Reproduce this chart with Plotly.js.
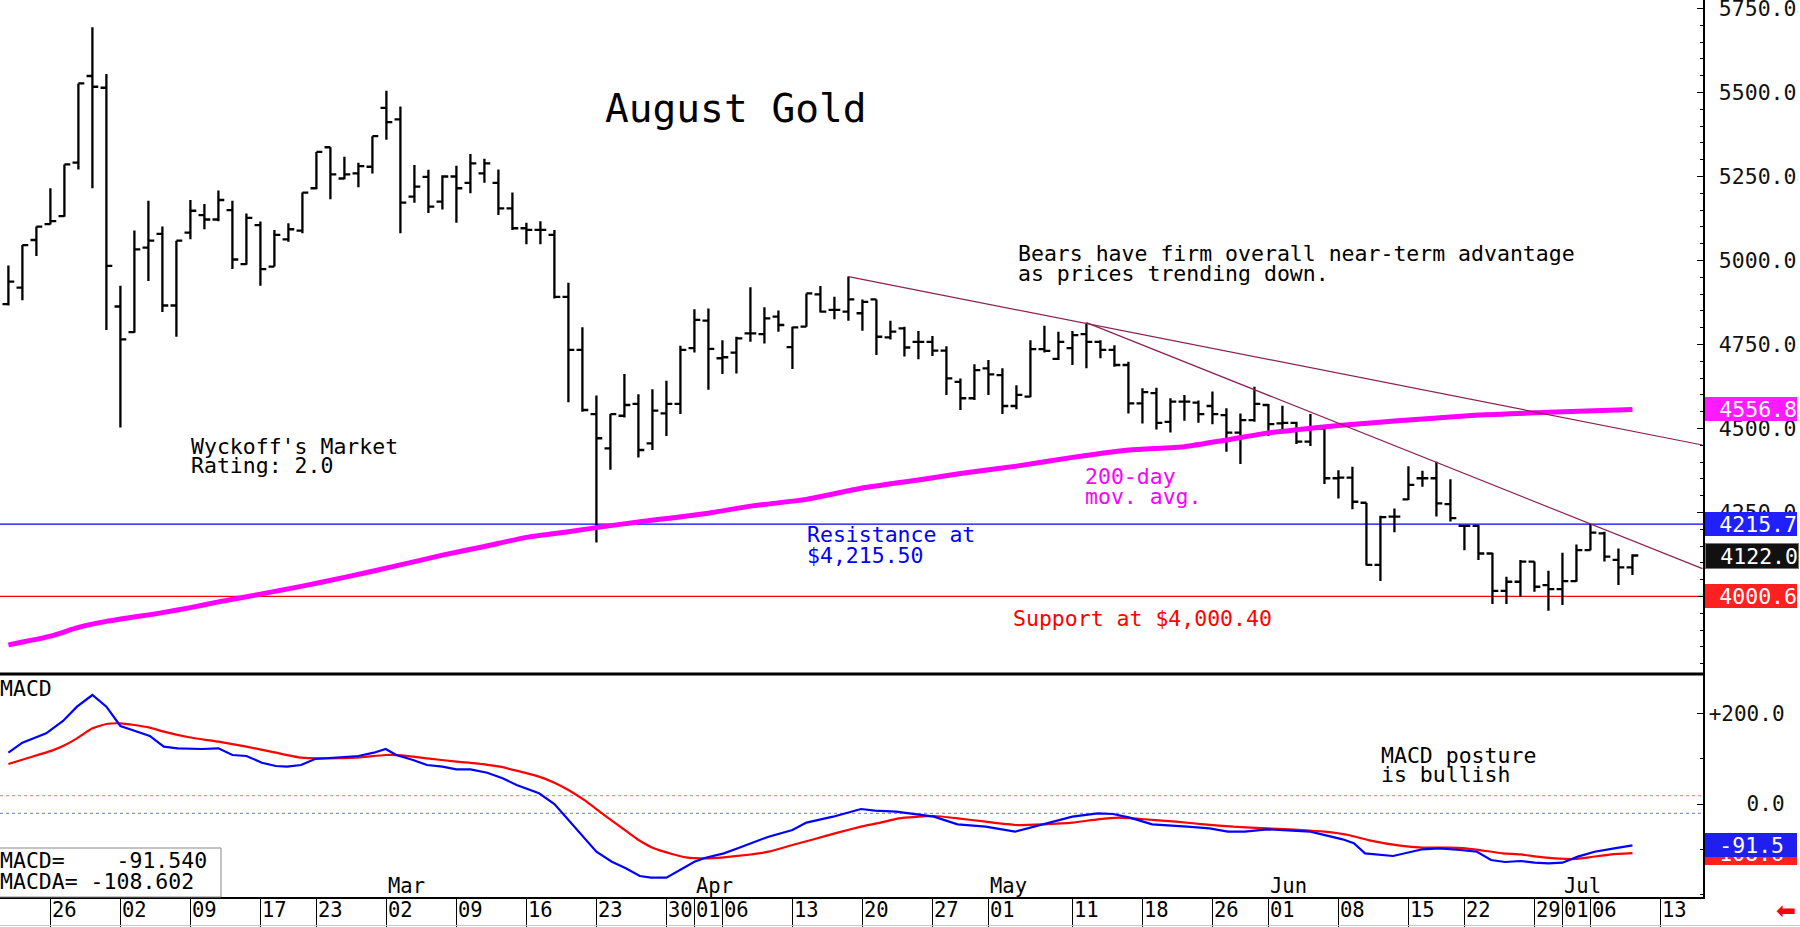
<!DOCTYPE html>
<html>
<head>
<meta charset="utf-8">
<script src="https://cdn.plot.ly/plotly-3.0.1.min.js"></script>
<style>
  html, body { margin: 0; padding: 0; background: #fff; }
  #chart { width: 1800px; height: 927px; }
</style>
</head>
<body>
<div id="chart"></div>
<script>
// ---- August Gold daily bars (one entry per trading day, Jan 21 .. Jul 9) ----
const openP = [
  4870, 4919, 5061, 5108, 5132, 5291, 5549, 5514, 4863, 4787,
  5038, 5079, 4866, 5083, 5135, 5122, 5150, 4989, 5105, 4982,
  5063, 5089, 5215, 5337, 5244, 5259, 5279, 5454, 5420, 5190,
  5249, 5175, 5250, 5231, 5259, 5231, 5155, 5096, 5091, 5076,
  4892, 4734, 4543, 4441, 4538, 4573, 4456, 4545, 4573, 4739,
  4821, 4709, 4726, 4783, 4781, 4833, 4742, 4803, 4899, 4853,
  4848, 4843, 4884, 4771, 4798, 4758, 4758, 4732, 4639, 4590,
  4679, 4659, 4567, 4595, 4736, 4707, 4739, 4781, 4758, 4734,
  4689, 4575, 4605, 4520, 4580, 4577, 4567, 4540, 4488, 4525,
  4570, 4515, 4517, 4461, 4500, 4352, 4354, 4279, 4094, 4238,
  4289, 4352, 4352, 4275, 4210, 4210, 4128, 4017, 4044, 4104,
  4034, 4022, 4046, 4138, 4188, 4109, 4087
];
const highP = [
  4985, 5046, 5101, 5215, 5286, 5527, 5694, 5555, 4925, 5089,
  5178, 5101, 5059, 5180, 5168, 5208, 5178, 5140, 5116, 5091,
  5111, 5202, 5323, 5337, 5309, 5291, 5370, 5505, 5458, 5284,
  5270, 5254, 5282, 5317, 5303, 5271, 5202, 5112, 5117, 5091,
  4934, 4801, 4598, 4543, 4662, 4602, 4617, 4642, 4746, 4855,
  4857, 4763, 4773, 4920, 4861, 4851, 4803, 4902, 4924, 4892,
  4952, 4884, 4884, 4821, 4803, 4790, 4775, 4745, 4649, 4691,
  4704, 4679, 4629, 4763, 4806, 4788, 4790, 4815, 4763, 4748,
  4699, 4620, 4621, 4590, 4600, 4583, 4610, 4560, 4545, 4624,
  4573, 4568, 4520, 4543, 4502, 4376, 4386, 4279, 4240, 4262,
  4388, 4374, 4401, 4349, 4213, 4213, 4130, 4059, 4109, 4104,
  4077, 4130, 4155, 4216, 4193, 4143, 4126
];
const lowP = [
  4866, 4882, 5013, 5107, 5130, 5271, 5215, 4793, 4503, 4785,
  4939, 4847, 4773, 5063, 5093, 5117, 4975, 4987, 4925, 4982,
  5056, 5081, 5212, 5182, 5242, 5218, 5259, 5359, 5081, 5172,
  5141, 5152, 5112, 5200, 5231, 5135, 5091, 5048, 5048, 4887,
  4578, 4550, 4161, 4377, 4533, 4414, 4436, 4478, 4543, 4726,
  4615, 4662, 4664, 4758, 4753, 4788, 4677, 4803, 4845, 4825,
  4821, 4791, 4719, 4765, 4714, 4706, 4716, 4600, 4555, 4585,
  4600, 4543, 4557, 4593, 4726, 4704, 4689, 4679, 4709, 4684,
  4545, 4515, 4497, 4488, 4523, 4517, 4513, 4431, 4394, 4520,
  4478, 4492, 4454, 4448, 4335, 4292, 4260, 4092, 4046, 4191,
  4287, 4327, 4238, 4223, 4138, 4109, 3978, 3978, 3999, 4014,
  3958, 3975, 4044, 4138, 4104, 4034, 4064
];
const closeP = [
  4937, 5046, 5101, 5117, 5286, 5527, 5517, 4984, 4765, 5033,
  5059, 4866, 5059, 5148, 5122, 5180, 5003, 5127, 4974, 5076,
  5093, 5202, 5323, 5256, 5256, 5281, 5370, 5412, 5172, 5220,
  5160, 5250, 5215, 5289, 5289, 5155, 5096, 5091, 5091, 4892,
  4734, 4555, 4471, 4543, 4570, 4436, 4553, 4573, 4734, 4823,
  4737, 4712, 4768, 4783, 4828, 4808, 4801, 4902, 4848, 4853,
  4884, 4877, 4773, 4788, 4741, 4758, 4732, 4649, 4590, 4674,
  4661, 4567, 4600, 4736, 4731, 4758, 4778, 4758, 4734, 4689,
  4575, 4608, 4517, 4580, 4580, 4543, 4543, 4488, 4525, 4573,
  4513, 4517, 4461, 4500, 4352, 4354, 4282, 4094, 4236, 4238,
  4332, 4352, 4277, 4233, 4210, 4128, 4017, 4044, 4104, 4029,
  4022, 4046, 4138, 4190, 4119, 4087, 4122.0
];

// ---- 200-day moving average (trading-day index, value) ----
const maIdx = [0, 3, 5, 7, 11, 13, 15, 18, 21, 24, 28, 31, 34, 37, 40, 42, 45, 50, 53, 57,
               61, 65, 68, 72, 76, 80, 84, 87, 90, 92, 95, 99, 105, 110, 116];
const maVal = [3856, 3882, 3908, 3926, 3952, 3967, 3984, 4007, 4031, 4057, 4094, 4123, 4149, 4176, 4193, 4205, 4222, 4248, 4269, 4289,
               4323, 4347, 4366, 4388, 4414, 4436, 4446, 4466, 4487, 4496, 4509, 4522, 4540, 4548, 4556.8];

// ---- MACD line (trading-day position, value) ----
const macdIdx = [0, 1.0, 2.7, 3.9, 4.9, 6.0, 7.0, 8.0, 9.0, 10.1, 11.1, 12.1, 13.8, 15.0, 16.0, 17.0, 18.1, 19.1, 19.9, 20.9,
                 21.9, 23.6, 25.0, 26.1, 26.95, 27.7, 28.9, 29.9, 31.0, 32.0, 33.0, 34.2, 35.3, 36.3, 37.9, 39.0, 40.0, 41.0, 42.0, 43.1,
                 44.1, 45.1, 45.9, 47.0, 48.0, 49.0, 49.8, 51.1, 52.1, 53.1, 54.3, 56.0, 57.0, 58.9, 60.9, 61.9, 63.4, 64.9, 66.1, 67.8,
                 69.8, 71.9, 73.9, 76.0, 77.8, 78.9, 80.1, 81.7, 84.2, 85.8, 87.1, 88.3, 89.9, 91.6, 93.0, 95.3, 96.1, 96.9, 98.9, 101.0,
                 102.2, 103.7, 104.9, 105.9, 106.9, 108.0, 109.0, 110.0, 111.0, 112.1, 113.3, 114.7, 116];
const macdVal = [113.6, 135.8, 156.5, 183.8, 215.4, 241.3, 215.4, 172.7, 162.3, 150.6, 126.9, 123.3, 121.8, 123.3, 108.5, 106.3, 91.4, 84.1, 82.6, 86.3,
                 99.6, 102.5, 106.3, 113.6, 121.8, 108.5, 97.4, 86.3, 82.6, 76.8, 76.8, 69.3, 56.9, 42.1, 23.7, 0, -35.4, -72.4, -105.6, -127.7,
                 -142.4, -159.4, -163.2, -163.2, -146.1, -127.7, -118.9, -109.2, -98.1, -87.0, -72.4, -57.6, -41.3, -28.1, -11.1, -14.8, -17.0, -22.9, -28.1, -45.0,
                 -50.2, -61.3, -44.3, -28.1, -20.7, -22.1, -30.3, -45.0, -50.2, -53.9, -61.3, -61.3, -56.1, -59.0, -61.3, -78.2, -87.0, -109.2, -115.1, -100.3,
                 -98.1, -101.8, -105.6, -124.0, -128.4, -126.2, -129.9, -131.4, -129.9, -116.6, -105.6, -98.1, -91.54];

// ---- MACDA (average of MACD) ----
const macdaIdx = [0, 1.45, 3.1, 3.9, 4.9, 6.0, 7.0, 8.0, 9.0, 10.1, 11.1, 12.9, 15.0, 17.0, 19.1, 20.9, 22.4, 24.8, 26.95, 28.1,
                  29.9, 32.0, 33.4, 35.1, 36.3, 37.9, 39.0, 40.0, 41.2, 42.4, 43.7, 44.9, 46.1, 47.4, 48.4, 49.8, 51.1, 52.7, 54.3, 56.0,
                  57.6, 59.3, 60.9, 62.3, 63.6, 66.1, 67.8, 69.8, 71.9, 73.9, 76.0, 77.8, 79.3, 80.9, 83.4, 85.4, 87.5, 89.9, 92.4, 94.0,
                  95.7, 97.3, 99.4, 101.0, 103.0, 104.7, 106.7, 108.0, 109.2, 110.8, 111.9, 112.9, 114.5, 116];
const macdaVal = [88.6, 102.5, 118.1, 128.4, 145.4, 167.5, 177.1, 178.6, 174.9, 169.0, 160.1, 147.7, 138.0, 126.9, 113.6, 102.5, 101.1, 102.5, 108.5, 107.8,
                  101.1, 93.7, 90.1, 82.6, 73.8, 60.5, 47.2, 31.0, 7.4, -20.7, -50.2, -77.5, -98.1, -110.7, -118.1, -120.3, -118.1, -112.9, -105.6, -90.8,
                  -77.5, -62.7, -50.2, -41.3, -31.7, -26.6, -31.7, -39.2, -46.5, -45.0, -41.3, -33.9, -30.3, -33.2, -39.2, -45.0, -50.2, -53.9, -57.6, -61.3,
                  -68.6, -81.2, -92.3, -96.7, -96.7, -100.3, -109.2, -111.4, -116.6, -121.1, -121.8, -118.1, -111.4, -108.602];
const macdUpperRef = 18.4;
const macdLowerRef = -20.6;

// ---- levels and trend lines ----
const resistance = 4215.5;
const support = 4000.4;
const trendAIdx = [60, 121];
const trendAVal = [4952, 4451];
const trendBIdx = [77, 121];
const trendBVal = [4815, 4083];

// ---- right-hand value flags ----
const flagMa = 4556.8, flagRes = 4215.7, flagLast = 4122.0, flagSup = 4000.6;

// ---- date axis ----
const tickIdx  = [3, 8, 13, 18, 22, 27, 32, 37, 42, 47, 49, 51, 56, 61, 66, 70, 76, 81, 86, 90, 95, 100, 104, 109, 111, 113, 118];
const tickText = ['26','02','09','17','23','02','09','16','23','30','01','06','13','20','27','01','11','18','26','01','08','15','22','29','01','06','13'];
const monthIdx  = [27, 49, 70, 90, 111];
const monthText = ['Mar', 'Apr', 'May', 'Jun', 'Jul'];

// ---------------------------------------------------------------------------
const FONT = 'DejaVu Sans Mono, monospace';
const PW = 1703, PH = 897;              // plot area in px
const px = x => x / PW;                  // px -> paper x
const py = y => 1 - y / PH;              // px -> paper y
const PRICE_DOMAIN = [1 - 674 / PH, 1];
const MACD_DOMAIN = [0, 1 - 674 / PH];

const barIdx = closeP.map((_, i) => i);

const traces = [
  {
    type: 'ohlc', x: barIdx, open: openP, high: highP, low: lowP, close: closeP,
    xaxis: 'x', yaxis: 'y', tickwidth: 0.42, hoverinfo: 'skip',
    increasing: { line: { color: '#000', width: 2.3 } },
    decreasing: { line: { color: '#000', width: 2.3 } }
  },
  {
    type: 'scatter', mode: 'lines', x: maIdx, y: maVal, xaxis: 'x', yaxis: 'y',
    line: { color: '#ff00ff', width: 5, shape: 'spline', smoothing: 0.6 }, hoverinfo: 'skip'
  },
  {
    type: 'scatter', mode: 'lines', x: trendAIdx, y: trendAVal, xaxis: 'x', yaxis: 'y',
    line: { color: '#8b2252', width: 1.2 }, hoverinfo: 'skip'
  },
  {
    type: 'scatter', mode: 'lines', x: trendBIdx, y: trendBVal, xaxis: 'x', yaxis: 'y',
    line: { color: '#8b2252', width: 1.2 }, hoverinfo: 'skip'
  },
  {
    type: 'scatter', mode: 'lines', x: macdaIdx, y: macdaVal, xaxis: 'x', yaxis: 'y2',
    line: { color: '#ff0000', width: 2.2, shape: 'spline', smoothing: 0.4 }, hoverinfo: 'skip'
  },
  {
    type: 'scatter', mode: 'lines', x: macdIdx, y: macdVal, xaxis: 'x', yaxis: 'y2',
    line: { color: '#0000ff', width: 2.2 }, hoverinfo: 'skip'
  }
];

function note(text, x, y, color, size, extra) {
  return Object.assign({
    text: text, xref: 'paper', yref: 'paper', x: px(x), y: py(y),
    xanchor: 'left', yanchor: 'middle', showarrow: false, borderpad: 0,
    font: { family: FONT, size: size || 21.5, color: color || '#000' }
  }, extra || {});
}

function flag(text, value, yref, bg, border) {
  return {
    text: text, xref: 'paper', yref: yref, x: px(1705), y: value,
    xanchor: 'left', yanchor: 'middle', showarrow: false,
    width: 92, height: 24, align: 'right', borderpad: 0,
    bgcolor: bg, bordercolor: border || bg, borderwidth: border ? 1 : 0,
    font: { family: FONT, size: 21.5, color: '#fff' }
  };
}

const annotations = [
  note('August Gold', 604, 107.5, '#000', 39.5),
  note('Bears have firm overall near-term advantage', 1017, 253),
  note('as prices trending down.', 1017, 273.5),
  note("Wyckoff's Market", 190, 446),
  note('Rating: 2.0', 190, 466),
  note('200-day', 1084, 476, '#ff00ff'),
  note('mov. avg.', 1084, 496, '#ff00ff'),
  note('Resistance at', 806, 534.5, '#0000ff'),
  note('$4,215.50', 806, 555, '#0000ff'),
  note('Support at $4,000.40', 1012, 618.5, '#ff0000'),
  note('MACD posture', 1380, 755),
  note('is bullish', 1380, 774),
  note('MACD', -1, 688),
  note('MACD=\u00a0\u00a0\u00a0\u00a0' + macdVal[macdVal.length - 1].toFixed(3), -1, 860),
  note('MACDA=\u00a0' + macdaVal[macdaVal.length - 1].toFixed(3), -1, 881.5),
  flag(flagMa.toFixed(1), flagMa, 'y', '#ff1aff'),
  flag(flagRes.toFixed(1), flagRes, 'y', '#2020ff'),
  flag(flagLast.toFixed(1), flagLast, 'y', '#111111', '#777777'),
  flag(flagSup.toFixed(1), flagSup, 'y', '#ff2020'),
  flag(macdaVal[macdaVal.length - 1].toFixed(1) + '\u00a0', macdaVal[macdaVal.length - 1], 'y2', '#ff2020'),
  flag(macdVal[macdVal.length - 1].toFixed(1) + '\u00a0', macdVal[macdVal.length - 1], 'y2', '#2020ee'),
  {
    text: '\u2B05', xref: 'paper', yref: 'paper', x: px(1786), y: py(911),
    xanchor: 'center', yanchor: 'middle', showarrow: false,
    font: { family: 'DejaVu Sans', size: 24, color: '#ff0000' }
  }
];

tickIdx.forEach((k, i) => annotations.push({
  text: tickText[i], xref: 'x', yref: 'paper', x: k, y: py(909.5), xshift: 1,
  xanchor: 'left', yanchor: 'middle', showarrow: false, borderpad: 0,
  font: { family: FONT, size: 20.5, color: '#000' }
}));
monthIdx.forEach((k, i) => annotations.push({
  text: monthText[i], xref: 'x', yref: 'paper', x: k, y: py(886), xshift: 1,
  xanchor: 'left', yanchor: 'middle', showarrow: false, borderpad: 0,
  font: { family: FONT, size: 20.5, color: '#000' }
}));

const shapes = [
  { type: 'line', xref: 'paper', yref: 'y', x0: 0, x1: 1, y0: resistance, y1: resistance,
    line: { color: '#0000ff', width: 1.3 }, layer: 'below' },
  { type: 'line', xref: 'paper', yref: 'y', x0: 0, x1: 1, y0: support, y1: support,
    line: { color: '#ff0000', width: 1.3 }, layer: 'below' },
  { type: 'line', xref: 'paper', yref: 'y2', x0: 0, x1: 1, y0: macdUpperRef, y1: macdUpperRef,
    line: { color: '#ff7070', width: 1, dash: 'dot' }, layer: 'below' },
  { type: 'line', xref: 'paper', yref: 'y2', x0: 0, x1: 1, y0: macdLowerRef, y1: macdLowerRef,
    line: { color: '#7070ff', width: 1, dash: 'dot' }, layer: 'below' },
  { type: 'line', xref: 'paper', yref: 'paper', x0: 0, x1: 1, y0: py(674), y1: py(674),
    line: { color: '#000', width: 3 } },
  { type: 'rect', xref: 'paper', yref: 'paper', x0: px(-1), x1: px(221), y0: py(897), y1: py(848),
    line: { color: '#888', width: 1 }, fillcolor: '#fff' },
  { type: 'line', xref: 'paper', yref: 'paper', x0: 0, x1: px(1800), y0: py(925.5), y1: py(925.5),
    line: { color: '#c8c8c8', width: 1 } }
];

const layout = {
  width: 1800, height: 927,
  margin: { l: 0, r: 97, t: 0, b: 30, pad: 0 },
  paper_bgcolor: '#fff', plot_bgcolor: '#fff',
  showlegend: false,
  xaxis: {
    type: 'linear', range: [-0.6, 121.04], anchor: 'y2',
    showgrid: false, zeroline: false, showline: true, linecolor: '#000', linewidth: 1.5,
    tickmode: 'array', tickvals: tickIdx, ticks: 'outside', ticklen: 28, tickwidth: 1, tickcolor: '#000',
    showticklabels: false, rangeslider: { visible: false }, fixedrange: true
  },
  yaxis: {
    domain: PRICE_DOMAIN, range: [3769.4, 5775.2], side: 'right', anchor: 'x',
    showgrid: false, zeroline: false, showline: true, linecolor: '#000', linewidth: 1.5,
    tickmode: 'array', tickvals: [4000, 4250, 4500, 4750, 5000, 5250, 5500, 5750],
    tickformat: '.1f', ticks: 'inside', ticklen: 6, tickwidth: 1, tickcolor: '#000',
    ticklabelstandoff: 10, ticklabeloverflow: 'allow',
    minor: { tickmode: 'linear', tick0: 0, dtick: 50, ticks: 'inside', ticklen: 3, tickcolor: '#000', showgrid: false },
    tickfont: { family: FONT, size: 21.5, color: '#111' }, fixedrange: true
  },
  yaxis2: {
    domain: MACD_DOMAIN, range: [-205.9, 287.8], side: 'right', anchor: 'x',
    showgrid: false, zeroline: false, showline: true, linecolor: '#000', linewidth: 1.5,
    tickmode: 'array', tickvals: [200, 0], ticktext: ['+200.0', '\u00a0\u00a0\u00a00.0'],
    ticks: 'inside', ticklen: 6, tickwidth: 1, tickcolor: '#000',
    ticklabelstandoff: 0, ticklabeloverflow: 'allow',
    minor: { tickmode: 'array', tickvals: [100, -100, -200], ticks: 'inside', ticklen: 3, tickcolor: '#000', showgrid: false },
    tickfont: { family: FONT, size: 21, color: '#111' }, fixedrange: true
  },
  annotations: annotations,
  shapes: shapes
};

Plotly.newPlot('chart', traces, layout, { staticPlot: true, displayModeBar: false });
</script>
</body>
</html>
